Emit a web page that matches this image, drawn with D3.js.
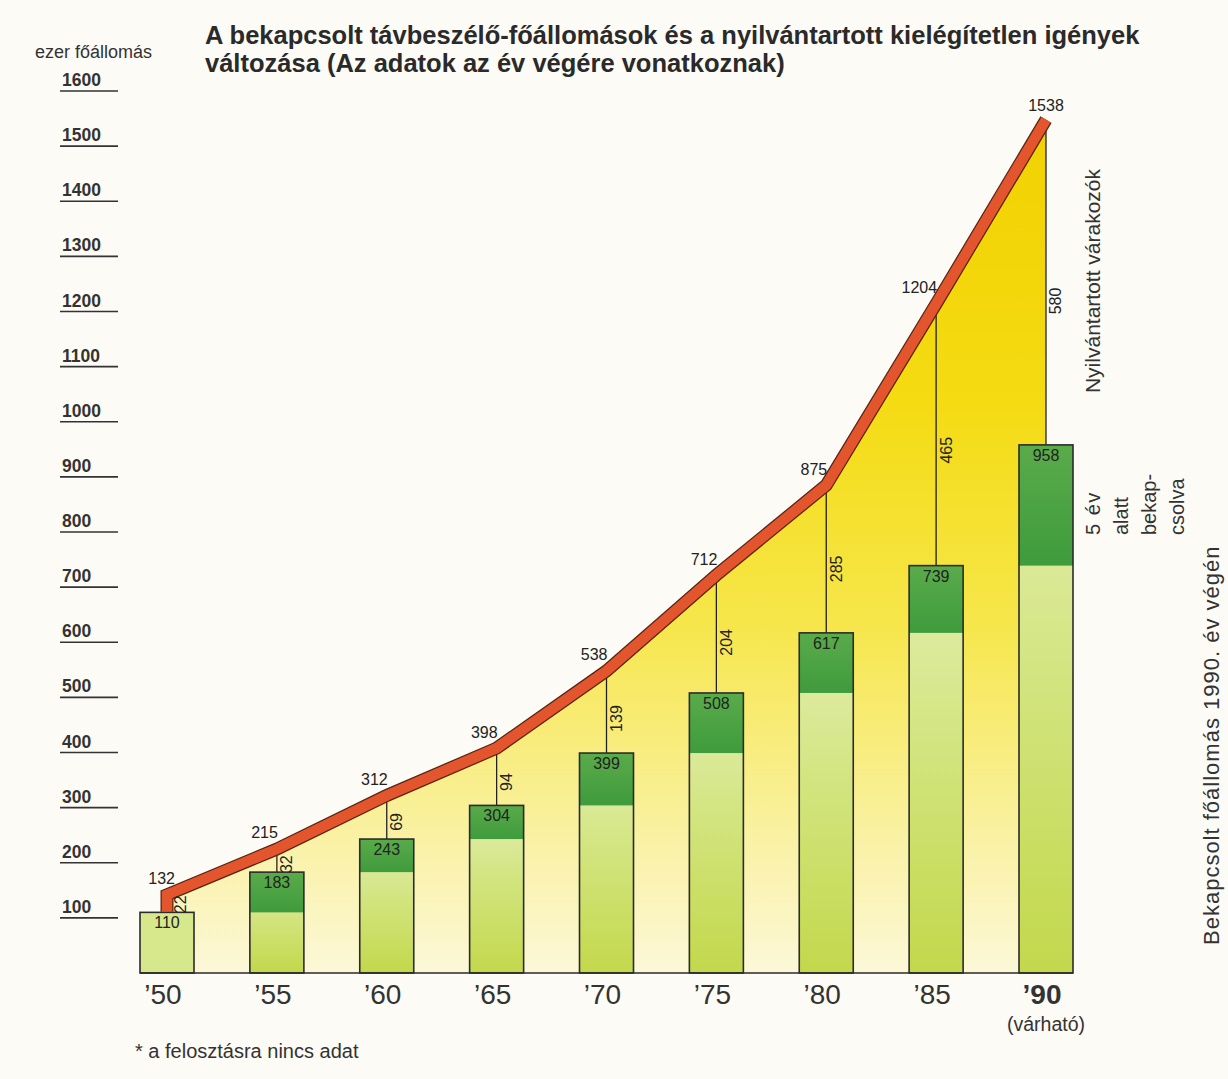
<!DOCTYPE html>
<html><head><meta charset="utf-8">
<script src="https://cdn.jsdelivr.net/npm/d3@7/dist/d3.min.js"></script>
<style>
html,body{margin:0;padding:0;background:#fdfbf6;}
svg{display:block;font-family:"Liberation Sans",Arial,Helvetica,sans-serif;}
</style></head><body>
<svg id="c" width="1228" height="1079"></svg>
<script>
const years = ["’50","’55","’60","’65","’70","’75","’80","’85","’90"];
const connected = [110,183,243,304,399,508,617,739,958];
const waiting = [22,32,69,94,139,204,285,465,580];
const totals = [132,215,312,398,538,712,875,1204,1538];
const yTicks = [100,200,300,400,500,600,700,800,900,1000,1100,1200,1300,1400,1500,1600];

const svg = d3.select("#c");
const W = 1228, H = 1079;
svg.append("rect").attr("width",W).attr("height",H).attr("fill","#fdfbf6");

const x = d3.scalePoint().domain(years).range([167,1046]);
const y = d3.scaleLinear().domain([0,1600]).range([973,91]);
const bw = 54;

const defs = svg.append("defs");
const yg = defs.append("linearGradient").attr("id","yel").attr("gradientUnits","userSpaceOnUse")
  .attr("x1",0).attr("y1",y(1600)).attr("x2",0).attr("y2",y(0));
[[0,"#f1d000"],[0.35,"#f4db12"],[0.6,"#f6e64a"],[0.82,"#f9f09a"],[1,"#fcf8d8"]].forEach(s=>
  yg.append("stop").attr("offset",s[0]).attr("stop-color",s[1]));
const lg = defs.append("linearGradient").attr("id","light").attr("x1",0).attr("y1",0).attr("x2",0).attr("y2",1);
[[0,"#e3eeb0"],[0.45,"#d2e47e"],[1,"#c3d84c"]].forEach(s=>
  lg.append("stop").attr("offset",s[0]).attr("stop-color",s[1]));
const dg = defs.append("linearGradient").attr("id","dark").attr("x1",0).attr("y1",0).attr("x2",0).attr("y2",1);
[[0,"#5aab4a"],[1,"#3f9b3c"]].forEach(s=>
  dg.append("stop").attr("offset",s[0]).attr("stop-color",s[1]));

// title
const title = svg.append("text").attr("font-weight","bold").attr("font-size",25.5).attr("fill","#2a2a2a");
title.append("tspan").attr("x",205).attr("y",44).text("A bekapcsolt távbeszélő-főállomások és a nyilvántartott kielégítetlen igények");
title.append("tspan").attr("x",205).attr("y",72).text("változása (Az adatok az év végére vonatkoznak)");

svg.append("text").attr("x",35).attr("y",58).attr("font-size",18).attr("fill","#333").text("ezer főállomás");

// y ticks
const tg = svg.append("g");
yTicks.forEach(v=>{
  tg.append("line").attr("x1",60).attr("x2",118).attr("y1",y(v)).attr("y2",y(v))
    .attr("stroke","#333").attr("stroke-width",1.6);
  tg.append("text").attr("x",62).attr("y",y(v)-5).attr("font-size",17.5).attr("font-weight","bold")
    .attr("fill","#333").text(v);
});

// yellow area
const idx = d3.range(years.length);
const area = d3.area().x(i=>x(years[i])).y0(y(0)).y1(i=>y(totals[i]));
svg.append("path").datum(idx).attr("d",area).attr("fill","url(#yel)");

// vertical waiting lines
idx.forEach(i=>{
  const xc = x(years[i]) + (i===0?4:0);
  svg.append("line").attr("x1",xc).attr("x2",xc).attr("y1",y(connected[i])).attr("y2",y(totals[i]))
    .attr("stroke","#222").attr("stroke-width",1.3);
});

// bars
idx.forEach(i=>{
  const xc = x(years[i]);
  const g = svg.append("g");
  g.append("rect").attr("x",xc-bw/2).attr("y",y(connected[i])).attr("width",bw)
    .attr("height",y(0)-y(connected[i])).attr("fill", i===0 ? "#d6e78c" : "url(#light)");
  if(i>0){
    g.append("rect").attr("x",xc-bw/2).attr("y",y(connected[i])).attr("width",bw)
      .attr("height",y(connected[i-1])-y(connected[i])).attr("fill","url(#dark)");
  }
  g.append("rect").attr("x",xc-bw/2).attr("y",y(connected[i])).attr("width",bw)
    .attr("height",y(0)-y(connected[i])).attr("fill","none").attr("stroke","#2b2b2b").attr("stroke-width",1.6);
  g.append("text").attr("x",xc).attr("y",y(connected[i])+16).attr("text-anchor","middle")
    .attr("font-size",16).attr("fill","#222").text(connected[i]);
});
// baseline
svg.append("line").attr("x1",x(years[0])-bw/2).attr("x2",x(years[years.length-1])+bw/2)
  .attr("y1",y(0)).attr("y2",y(0)).attr("stroke","#2b2b2b").attr("stroke-width",1.6);

// red band
const pts = [[x(years[0]), y(connected[0])+5]].concat(idx.map(i=>[x(years[i]), y(totals[i])]));
const line = d3.line();
const band = svg.append("g").attr("transform","translate(0,-5.5)");
band.append("path").attr("d",line(pts)).attr("fill","none").attr("stroke","#5a2414")
  .attr("stroke-width",13).attr("stroke-linejoin","miter");
band.append("path").attr("d",line(pts)).attr("fill","none").attr("stroke","#e2552d")
  .attr("stroke-width",10.5).attr("stroke-linejoin","miter");

// total labels
idx.forEach(i=>{
  const last = i===years.length-1;
  svg.append("text").attr("x", last ? x(years[i]) : x(years[i])+ (i===0?8:1))
    .attr("y", y(totals[i]) - (last?14:16)).attr("text-anchor", last?"middle":"end")
    .attr("font-size",16).attr("fill","#222").text(totals[i]);
});

// waiting labels (rotated)
idx.forEach(i=>{
  const xc = x(years[i]) + (i===0?4:0);
  const yt = y(totals[i]), yb = y(connected[i]);
  const ym = i===0 ? (yt+yb)/2 - 2 : yt + (yb-yt)*0.55;
  svg.append("text").attr("transform",`translate(${xc+3},${ym}) rotate(-90)`)
    .attr("text-anchor","middle").attr("dy","0.78em").attr("font-size",16).attr("fill","#222").text(waiting[i]);
});

// x labels
idx.forEach(i=>{
  svg.append("text").attr("x",x(years[i])-4).attr("y",1004).attr("text-anchor","middle")
    .attr("font-size",28).attr("fill","#333").attr("font-weight", i===years.length-1?"bold":"normal").text(years[i]);
});
svg.append("text").attr("x",x(years[years.length-1])).attr("y",1031).attr("text-anchor","middle")
  .attr("font-size",19.5).attr("fill","#333").text("(várható)");

// right side notes
const rot = (xx,yy,txt,anchor,fs,ls)=>svg.append("text").attr("transform",`translate(${xx},${yy}) rotate(-90)`)
  .attr("text-anchor",anchor).attr("font-size",fs).attr("letter-spacing",ls||0).attr("fill","#333").text(txt);
rot(1100,281,"Nyilvántartott várakozók","middle",21);
rot(1100,535,"5 év","start",20,1.5);
rot(1128,535,"alatt","start",20);
rot(1156,535,"bekap-","start",20);
rot(1184,535,"csolva","start",20);
rot(1219,945,"Bekapcsolt főállomás 1990. év végén","start",22,1);

svg.append("text").attr("x",135).attr("y",1058).attr("font-size",20).attr("fill","#333").text("* a felosztásra nincs adat");
</script>
</body></html>
